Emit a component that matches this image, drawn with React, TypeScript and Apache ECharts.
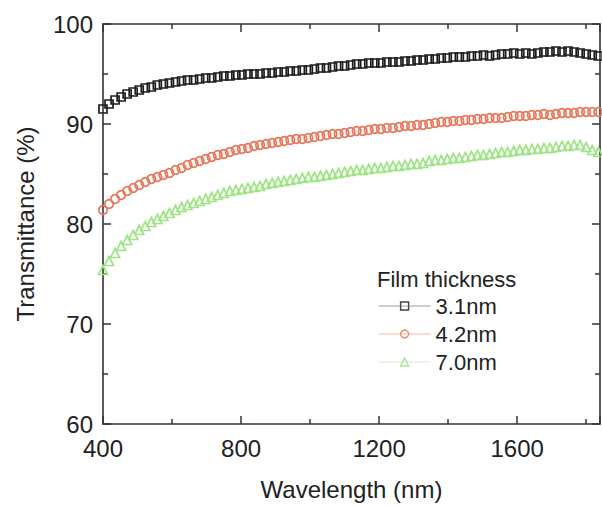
import React, { useEffect, useRef } from "react";
import * as echarts from "echarts";

const wavelength = [
  400, 417.5, 435, 452.5, 470, 487.5, 505, 522.5, 540, 557.5, 575, 592.5, 610, 627.5, 645, 662.5,
  680, 697.5, 715, 732.5, 750, 767.5, 785, 802.5, 820, 837.5, 855, 872.5, 890, 907.5, 925, 942.5,
  960, 977.5, 995, 1012.5, 1030, 1047.5, 1065, 1082.5, 1100, 1117.5, 1135, 1152.5, 1170, 1187.5,
  1205, 1222.5, 1240, 1257.5, 1275, 1292.5, 1310, 1327.5, 1345, 1362.5, 1380, 1397.5, 1415, 1432.5,
  1450, 1467.5, 1485, 1502.5, 1520, 1537.5, 1555, 1572.5, 1590, 1607.5, 1625, 1642.5, 1660, 1677.5,
  1695, 1712.5, 1730, 1747.5, 1765, 1782.5, 1800, 1817.5, 1835,
];

const film31 = [
  91.5, 92.0, 92.4, 92.7, 93.0, 93.2, 93.4, 93.6, 93.7, 93.9, 94.0, 94.1, 94.2, 94.3, 94.4, 94.4,
  94.5, 94.6, 94.6, 94.7, 94.8, 94.8, 94.9, 94.9, 95.0, 95.0, 95.0, 95.1, 95.1, 95.2, 95.2, 95.3,
  95.3, 95.4, 95.4, 95.5, 95.6, 95.6, 95.7, 95.8, 95.8, 95.9, 96.0, 96.0, 96.1, 96.1,
  96.1, 96.2, 96.2, 96.2, 96.3, 96.3, 96.4, 96.4, 96.5, 96.5, 96.6, 96.6, 96.7, 96.7,
  96.7, 96.8, 96.8, 96.9, 96.8, 96.9, 97.0, 97.0, 97.1, 97.0, 97.1, 97.0, 97.1, 97.2,
  97.2, 97.3, 97.2, 97.3, 97.2, 97.1, 97.0, 96.9, 96.8,
];

const film42 = [
  81.4, 82.0, 82.5, 82.9, 83.3, 83.6, 83.9, 84.2, 84.5, 84.7, 84.9, 85.1, 85.4, 85.6, 85.9, 86.1,
  86.3, 86.5, 86.7, 86.9, 87.0, 87.2, 87.4, 87.5, 87.6, 87.8, 87.9, 88.0, 88.1, 88.2, 88.3, 88.4,
  88.5, 88.5, 88.6, 88.7, 88.8, 88.9, 89.0, 89.0, 89.1, 89.2, 89.3, 89.3, 89.4, 89.5,
  89.5, 89.6, 89.6, 89.7, 89.8, 89.8, 89.9, 89.9, 90.0, 90.1, 90.2, 90.2, 90.3, 90.3,
  90.4, 90.4, 90.5, 90.5, 90.6, 90.6, 90.6, 90.7, 90.8, 90.8, 90.8, 90.9, 90.9, 91.0,
  90.9, 91.0, 91.1, 91.1, 91.1, 91.2, 91.2, 91.2, 91.2,
];

const film70 = [
  75.4, 76.3, 77.1, 77.8, 78.4, 78.9, 79.4, 79.8, 80.2, 80.5, 80.8, 81.1, 81.4, 81.7, 81.9, 82.1,
  82.3, 82.5, 82.7, 82.9, 83.1, 83.3, 83.4, 83.5, 83.6, 83.7, 83.8, 84.0, 84.1, 84.2, 84.3, 84.4,
  84.5, 84.6, 84.7, 84.7, 84.8, 84.9, 85.0, 85.1, 85.2, 85.3, 85.4, 85.4, 85.5, 85.6,
  85.6, 85.7, 85.8, 85.8, 85.9, 86.0, 86.0, 86.1, 86.3, 86.4, 86.4, 86.5, 86.6, 86.6,
  86.7, 86.8, 86.9, 86.9, 87.0, 87.1, 87.2, 87.2, 87.3, 87.4, 87.4, 87.5, 87.5, 87.6,
  87.6, 87.7, 87.8, 87.8, 87.9, 87.9, 87.7, 87.4, 87.2,
];

const seriesNames = ["3.1nm", "4.2nm", "7.0nm"];
const xTicks = [400, 800, 1200, 1600];
const legendTitle = "Film thickness";

const FONT = "'Liberation Sans', Arial, Helvetica, sans-serif";

export default function App() {
  const ref = useRef<HTMLDivElement>(null);
  useEffect(() => {
    if (!ref.current) return;
    const chart = echarts.init(ref.current, undefined, { renderer: "svg" });
    const axisLine = { show: true, lineStyle: { color: "#333", width: 1.6 } };
    const tick = { show: true, inside: true, length: 8, lineStyle: { color: "#333", width: 1.5 } };
    const minor = { show: true, splitNumber: 2, length: 5, lineStyle: { color: "#333", width: 1.5 } };
    const mk = (vals: number[]) => wavelength.map((w, i) => [w, vals[i]]);
    chart.setOption({
      animation: false,
      backgroundColor: "#fff",
      textStyle: { fontFamily: FONT },
      grid: { left: 103, top: 24, right: 2, bottom: 76, containLabel: false },
      xAxis: [
        {
          type: "value",
          min: 400,
          max: 1840,
          interval: 400,
          position: "bottom",
          name: "Wavelength (nm)",
          nameLocation: "middle",
          nameGap: 53,
          nameTextStyle: { fontSize: 24, color: "#222", fontFamily: FONT },
          axisLine,
          axisTick: tick,
          minorTick: minor,
          splitLine: { show: false },
          axisLabel: {
            fontSize: 24,
            color: "#222",
            margin: 12,
            fontFamily: FONT,
            showMaxLabel: false,
            formatter: (v: number) => (xTicks.includes(v) ? String(v) : ""),
          },
        },
        {
          type: "value",
          min: 400,
          max: 1840,
          interval: 400,
          position: "top",
          axisLine,
          axisTick: tick,
          minorTick: minor,
          splitLine: { show: false },
          axisLabel: { show: false },
        },
      ],
      yAxis: [
        {
          type: "value",
          min: 60,
          max: 100,
          interval: 10,
          position: "left",
          name: "Transmittance (%)",
          nameLocation: "middle",
          nameGap: 66,
          nameTextStyle: { fontSize: 24, color: "#222", fontFamily: FONT },
          axisLine,
          axisTick: tick,
          minorTick: minor,
          splitLine: { show: false },
          axisLabel: { fontSize: 24, color: "#222", margin: 10, fontFamily: FONT },
        },
        {
          type: "value",
          min: 60,
          max: 100,
          interval: 10,
          position: "right",
          axisLine,
          axisTick: tick,
          minorTick: minor,
          splitLine: { show: false },
          axisLabel: { show: false },
        },
      ],
      legend: {
        orient: "vertical",
        left: 373,
        top: 290,
        itemWidth: 52,
        itemHeight: 10,
        itemGap: 6,
        textStyle: { fontSize: 22, color: "#222", fontFamily: FONT },
        data: [
          {
            name: seriesNames[0],
            lineStyle: { color: "#a0a0a0", opacity: 1, width: 1.2 },
            itemStyle: { color: "rgba(255,255,255,0)", borderColor: "#444", borderWidth: 1.4 },
          },
          {
            name: seriesNames[1],
            lineStyle: { color: "#f3bcae", opacity: 1, width: 1.2 },
            itemStyle: { color: "rgba(255,255,255,0)", borderColor: "#e48a74", borderWidth: 1.4 },
          },
          {
            name: seriesNames[2],
            lineStyle: { color: "#d3f2c8", opacity: 1, width: 1.2 },
            itemStyle: { color: "rgba(255,255,255,0)", borderColor: "#a8e596", borderWidth: 1.4 },
          },
        ],
      },
      graphic: [
        {
          type: "text",
          left: 377,
          top: 268,
          style: { text: legendTitle, fontSize: 22, fill: "#222", fontFamily: FONT },
        },
      ],
      series: [
        {
          name: seriesNames[0],
          type: "line",
          data: mk(film31),
          symbol: "rect",
          symbolSize: 8,
          lineStyle: { opacity: 0 },
          itemStyle: { color: "rgba(255,255,255,0)", borderColor: "#1e1e1e", borderWidth: 1.7 },
        },
        {
          name: seriesNames[1],
          type: "line",
          data: mk(film42),
          symbol: "circle",
          symbolSize: 8.5,
          lineStyle: { opacity: 0 },
          itemStyle: { color: "rgba(255,255,255,0)", borderColor: "#e8775c", borderWidth: 1.7 },
        },
        {
          name: seriesNames[2],
          type: "line",
          data: mk(film70),
          symbol: "triangle",
          symbolSize: 9,
          lineStyle: { opacity: 0 },
          itemStyle: { color: "rgba(255,255,255,0)", borderColor: "#9fe585", borderWidth: 1.7 },
        },
      ],
    });
    return () => chart.dispose();
  }, []);
  return (
    <div
      ref={ref}
      style={{ position: "absolute", left: 0, top: 0, width: 602, height: 506, background: "#fff" }}
    />
  );
}
